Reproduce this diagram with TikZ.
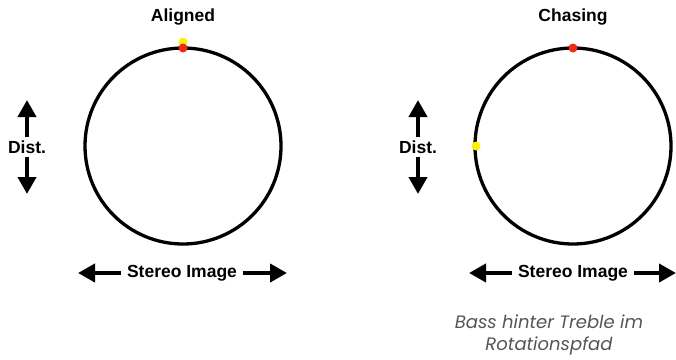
\documentclass[tikz,border=0pt]{standalone}
\usepackage{fontspec}
\setmainfont{Liberation Sans}
\newfontfamily\capfont{Poppins}
\usetikzlibrary{arrows.meta}
\definecolor{dotred}{RGB}{240,40,20}
\definecolor{dotyellow}{RGB}{250,240,10}
\definecolor{captiongray}{RGB}{85,85,85}
\begin{document}
\begin{tikzpicture}[x=1pt,y=-1pt,
  lbl/.style={font=\fontsize{17.5}{20}\selectfont\bfseries, inner sep=0pt},
  ring/.style={draw=black, line width=3.3pt, circle, minimum size=196pt, inner sep=0pt},
  bigarrow/.style={line width=4pt, -{Triangle[length=17pt,width=18pt]}},
  dot/.style={circle, fill=#1, minimum size=9pt, inner sep=0pt},
  caption/.style={font=\capfont\itshape\fontsize{18}{22.5}\selectfont, text=captiongray, align=center, inner sep=0pt}]
\useasboundingbox (0,0) rectangle (676,359);
% left panel
\node[lbl] (t1) at (183,17) {Aligned};
\node[ring] (c1) at (183,146) {};
\node[dot=dotyellow] (y1) at (183,42) {};
\node[dot=dotred] (r1) at (183,48) {};
\node[lbl] (d1) at (27,147) {Dist.};
\coordinate (d1u) at (27,100);
\coordinate (d1d) at (27,194);
\draw[bigarrow] (d1.north) ++(0,-3) -- (d1u);
\draw[bigarrow] (d1.south) ++(0,3) -- (d1d);
\node[lbl] (s1) at (182,273) {Stereo Image};
\coordinate (s1l) at (78,273);
\coordinate (s1r) at (287,273);
\draw[bigarrow] (s1.west) ++(-6,0) -- (s1l);
\draw[bigarrow] (s1.east) ++(6,0) -- (s1r);
% right panel
\node[lbl] (t2) at (573,17) {Chasing};
\node[ring] (c2) at (573,146) {};
\node[dot=dotred] (r2) at (573,48) {};
\node[dot=dotyellow] (y2) at (476,146) {};
\node[lbl] (d2) at (418,147) {Dist.};
\coordinate (d2u) at (418,100);
\coordinate (d2d) at (418,194);
\draw[bigarrow] (d2.north) ++(0,-3) -- (d2u);
\draw[bigarrow] (d2.south) ++(0,3) -- (d2d);
\node[lbl] (s2) at (573,273) {Stereo Image};
\coordinate (s2l) at (469,273);
\coordinate (s2r) at (676,273);
\draw[bigarrow] (s2.west) ++(-6,0) -- (s2l);
\draw[bigarrow] (s2.east) ++(6,0) -- (s2r);
\node[caption] (cap) at (549,335) {Bass hinter Treble im\\Rotationspfad};
\end{tikzpicture}
\end{document}
